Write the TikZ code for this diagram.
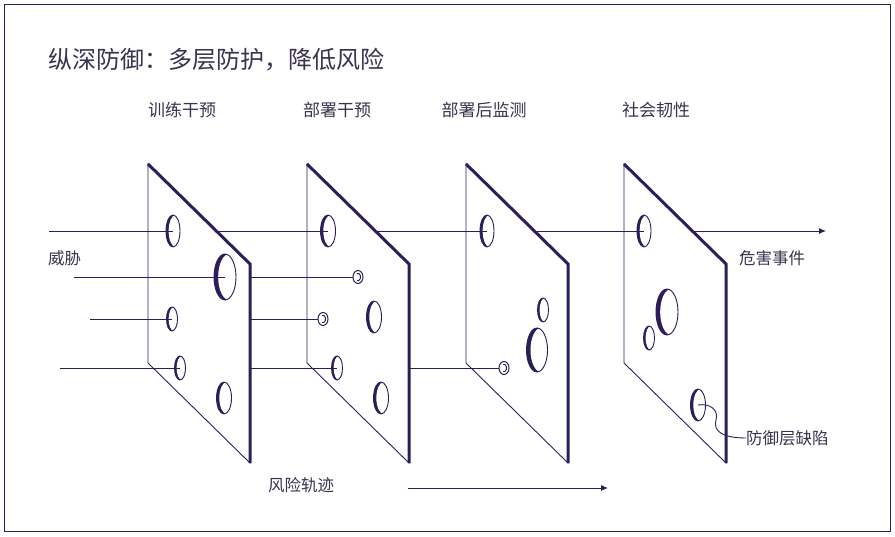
\documentclass[tikz,border=0pt]{standalone}
\usepackage{fontspec}
\newfontfamily\cjk{Noto Sans CJK SC}
\usetikzlibrary{arrows.meta,shapes.geometric,calc}
\definecolor{ink}{HTML}{2D1E5A}
\definecolor{txt}{HTML}{3A324F}

\begin{document}
\begin{tikzpicture}[
  x=1pt, y=-1pt,
  font=\cjk,
  frame/.style={draw=ink, line width=1pt},
  face/.style={fill=white, draw=ink, line width=0.9pt},
  rim/.style={draw=ink, line width=3pt},
  ray/.style={draw=ink, line width=0.9pt},
  arrow/.style={ray, -{Latex[length=7pt,width=6pt]}},
  title/.style={text=txt, font=\cjk\fontsize{24}{28}\selectfont, inner sep=0pt},
  layername/.style={text=txt, font=\cjk\fontsize{17}{20}\selectfont, inner sep=0pt},
  note/.style={text=txt, font=\cjk\fontsize{16.5}{20}\selectfont, inner sep=0pt},
  hole/.style={ellipse, draw=ink, line width=0.9pt, inner sep=0pt, fill=white,
    path picture={
      \fill[fill=ink] (path picture bounding box.south west) rectangle (path picture bounding box.north east);
      \path let \p1=($(path picture bounding box.north east)-(path picture bounding box.center)$) in
        [fill=white] ([xshift={0.38*\x1}]path picture bounding box.center) ellipse [x radius=\x1, y radius=\y1];}},
  stopring/.style={ellipse, draw=ink, line width=1pt, inner sep=0pt, fill=white,
    minimum width=10pt, minimum height=13pt,
    path picture={\draw[ink, line width=0.9pt] ($(path picture bounding box.center)+(-0.9,-3.5)$)
      arc[start angle=-110, end angle=110, x radius=2.6, y radius=3.7];}},
  layer/.pic={
    \filldraw[face] (0,0) -- (102,100) -- (102,299) -- (0,199) -- cycle;
    \draw[rim] (0,0) -- (102,100) -- (102,299);}
]
\useasboundingbox (0,0) rectangle (895,537);
\draw[frame] (4,5) rectangle (890,531);

% labels
\node[title, anchor=west] (head) at (48,60) {纵深防御：多层防护，降低风险};
\node[layername] (name1) at (182,110) {训练干预};
\node[layername] (name2) at (337,110) {部署干预};
\node[layername] (name3) at (484,110) {部署后监测};
\node[layername] (name4) at (656,110) {社会韧性};
\node[note, anchor=west] (threat) at (48,258) {威胁};
\node[note, anchor=west] (harmtxt) at (739,258) {危害事件};
\node[note, anchor=west] (defect) at (746,438) {防御层缺陷};
\node[note, anchor=west] (pathtxt) at (268,485) {风险轨迹};

% where the threat paths start and cross the layers
\coordinate (r1s) at (49,231);
\coordinate (r2s) at (74,277);
\coordinate (r3s) at (90,319);
\coordinate (r4s) at (60,368);
\coordinate (r1a) at (173,231);
\coordinate (r1b) at (328,231);
\coordinate (r1c) at (487,231);
\coordinate (r1d) at (644,231);
\coordinate (r2a) at (225,277);
\coordinate (r3a) at (172,319);
\coordinate (r4a) at (180,368);
\coordinate (r4b) at (337,368);
\coordinate (harm) at (826,231);
\coordinate (trackstart) at (408,488);
\coordinate (trackend) at (608,488);

\draw[arrow] (trackstart) -- (trackend);

% back layer first
\draw[arrow] (r1d) -- (harm);
\pic at (624,164) {layer};
\node[hole, minimum width=14pt, minimum height=32pt] (h4a) at (r1d) {};
\node[hole, minimum width=22pt, minimum height=46pt] (h4b) at (667,312) {};
\node[hole, minimum width=11pt, minimum height=24pt] (h4c) at (649,338) {};
\node[hole, minimum width=15pt, minimum height=32pt] (h4d) at (698,405) {};

\draw[ray] (r1c) -- (r1d);
\pic at (466,164) {layer};
\node[hole, minimum width=14pt, minimum height=32pt] (h3a) at (r1c) {};
\node[hole, minimum width=11pt, minimum height=24pt] (h3b) at (543,310) {};
\node[hole, minimum width=21pt, minimum height=44pt] (h3c) at (537,350) {};
\node[stopring] (s3d) at (504,368) {};

\draw[ray] (r1b) -- (r1c);
\draw[ray] (r4b) -- (s3d);
\pic at (307,164) {layer};
\node[hole, minimum width=15pt, minimum height=32pt] (h2a) at (r1b) {};
\node[stopring] (s2b) at (358,277) {};
\node[hole, minimum width=15pt, minimum height=32pt] (h2c) at (374,317) {};
\node[stopring] (s2c) at (323,319) {};
\node[hole, minimum width=11pt, minimum height=24pt] (h2d) at (r4b) {};
\node[hole, minimum width=15pt, minimum height=32pt] (h2e) at (381,398) {};

\draw[ray] (r1a) -- (r1b);
\draw[ray] (r2a) -- (s2b);
\draw[ray] (r3a) -- (s2c);
\draw[ray] (r4a) -- (r4b);
\pic at (148,164) {layer};
\node[hole, minimum width=14pt, minimum height=32pt] (h1a) at (r1a) {};
\node[hole, minimum width=22pt, minimum height=46pt] (h1b) at (r2a) {};
\node[hole, minimum width=11pt, minimum height=24pt] (h1c) at (r3a) {};
\node[hole, minimum width=11pt, minimum height=24pt] (h1d) at (r4a) {};
\node[hole, minimum width=15pt, minimum height=32pt] (h1e) at (224,398) {};

% front segments
\draw[ray] (r1s) -- (r1a);
\draw[ray] (r2s) -- (r2a);
\draw[ray] (r3s) -- (r3a);
\draw[ray] (r4s) -- (r4a);

\draw[ink, line width=0.9pt] (h4d.center) .. controls (710,403) and (719,410) .. (716,420)
  .. controls (713,431) and (722,438) .. (defect.west);
\end{tikzpicture}
\end{document}
